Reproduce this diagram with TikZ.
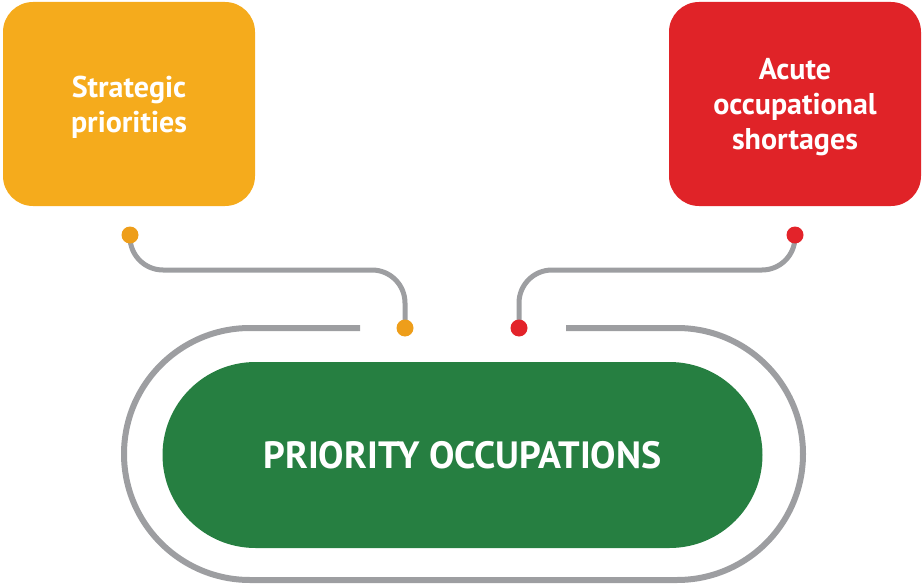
\documentclass[tikz,border=0pt]{standalone}
\usepackage{fontspec}
\setmainfont{PT Sans}
\usetikzlibrary{positioning}
\definecolor{orgbox}{HTML}{F5AB1C}
\definecolor{orgdot}{HTML}{EE9E1A}
\definecolor{redbox}{HTML}{E02328}
\definecolor{reddot}{HTML}{E3232A}
\definecolor{grnbox}{HTML}{267F41}
\definecolor{wiregray}{HTML}{9D9EA1}
\begin{document}
\begin{tikzpicture}[
    x=1pt, y=-1pt,
    font=\bfseries
]
\tikzset{
    mybox/.style = {rectangle, rounded corners=30, minimum width=252, minimum height=204,
                    align=center, text=white, font=\bfseries\fontsize{30}{35}\selectfont},
    mypill/.style = {rectangle, rounded corners=93, minimum width=600, minimum height=186,
                     fill=grnbox, text=white, font=\bfseries\fontsize{38}{42}\selectfont},
    mydot/.style = {circle, inner sep=0pt, minimum size=17},
    wire/.style = {line width=5, draw=wiregray, rounded corners=33},
    track/.style = {line width=6, draw=wiregray, rounded corners=126}
}
\useasboundingbox (0,0) rectangle (922,586);
\node[mybox, fill=orgbox] at (129,104) (strat) {\rule{0pt}{27pt}Strategic\\priorities};
\node[mybox, fill=redbox] at (795,104) (acute) {\rule{0pt}{27pt}Acute\\occupational\\shortages};
\node[mypill] at (462.5,455) (prio) {PRIORITY OCCUPATIONS};
\coordinate (so) at (130,235);
\coordinate (po) at (405,328);
\coordinate (pr) at (519,328);
\coordinate (ar) at (795,235);
\coordinate (mo) at (250,270);
\coordinate (mr) at (650,270);
\coordinate (tl) at (360,328);
\coordinate (tr) at (566,328);
\draw[track] (tl) -- (124,328) -- (124,580) -- (803,580) -- (803,328) -- (tr);
\draw[wire] (so) |- (mo) -| (po);
\draw[wire] (pr) |- (mr) -| (ar);
\node[mydot, fill=orgdot] at (so) {};
\node[mydot, fill=orgdot] at (po) {};
\node[mydot, fill=reddot] at (pr) {};
\node[mydot, fill=reddot] at (ar) {};
\end{tikzpicture}
\end{document}
